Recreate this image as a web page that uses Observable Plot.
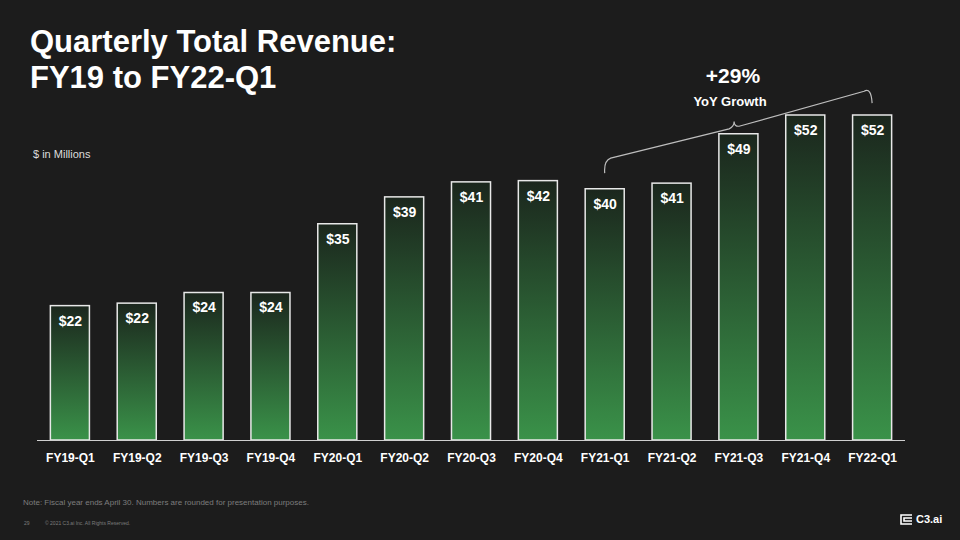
<!DOCTYPE html>
<html>
<head>
<meta charset="utf-8">
<script src="https://cdn.jsdelivr.net/npm/d3@7"></script>
<script src="https://cdn.jsdelivr.net/npm/@observablehq/plot@0.6"></script>
<style>
  html, body { margin: 0; padding: 0; background: #1c1c1c; }
  #page { position: relative; width: 960px; height: 540px; background: #1c1c1c; overflow: hidden;
          font-family: "Liberation Sans", Arial, Helvetica, sans-serif; color: #fff; }
  #chart { position: absolute; left: 0; top: 0; }
  .title { position: absolute; left: 30px; top: 24px; font-size: 31px; font-weight: bold; line-height: 36px; color: #fff; }
  .units { position: absolute; left: 33px; top: 148px; font-size: 11px; color: #dcdcdc; }
  .growth { position: absolute; left: 633px; width: 200px; text-align: center; top: 64px; font-size: 21px; font-weight: bold; }
  .growth2 { position: absolute; left: 630px; width: 200px; text-align: center; top: 94px; font-size: 13px; font-weight: bold; }
  .note { position: absolute; left: 23px; top: 498px; font-size: 8px; color: #7d7d7d; }
  .pg { position: absolute; left: 24px; top: 520px; font-size: 5px; color: #7d7d7d; }
  .copy { position: absolute; left: 45px; top: 520px; font-size: 5px; color: #7d7d7d; }
  .logo { position: absolute; left: 900px; top: 513px; font-size: 11px; font-weight: bold; color: #fff; display: flex; align-items: center; gap: 3px; }
</style>
</head>
<body>
<div id="page">
  <div id="chart"></div>
  <div class="title">Quarterly Total Revenue:<br>FY19 to FY22-Q1</div>
  <div class="units">$ in Millions</div>
  <div class="growth">+29%</div>
  <div class="growth2">YoY Growth</div>
  <div class="note">Note: Fiscal year ends April 30. Numbers are rounded for presentation purposes.</div>
  <div class="pg">29</div>
  <div class="copy">© 2021 C3.ai Inc. All Rights Reserved.</div>
  <div class="logo">
    <svg width="13" height="11" viewBox="0 0 13 11"><path d="M12 1H1v9h11M12 4H4v3h8" fill="none" stroke="#fff" stroke-width="1.6"/></svg>
    <span>C3.ai</span>
  </div>
</div>
<script>
const quarters = ["FY19-Q1","FY19-Q2","FY19-Q3","FY19-Q4","FY20-Q1","FY20-Q2","FY20-Q3","FY20-Q4","FY21-Q1","FY21-Q2","FY21-Q3","FY21-Q4","FY22-Q1"];
const revenue = [21.5, 21.9, 23.6, 23.6, 34.6, 38.9, 41.3, 41.5, 40.2, 41.1, 49.0, 52.0, 52.0];
const labels = ["$22","$22","$24","$24","$35","$39","$41","$42","$40","$41","$49","$52","$52"];
const braceFrom = "FY21-Q1";
const braceTo = "FY22-Q1";

const data = quarters.map((q, i) => ({q, v: revenue[i], label: labels[i]}));

const plot = Plot.plot({
  width: 960,
  height: 540,
  marginLeft: 37,
  marginRight: 55,
  marginTop: 65,
  marginBottom: 100,
  style: {background: "transparent", color: "#fff", fontFamily: "'Liberation Sans', Arial, sans-serif"},
  x: {domain: quarters, paddingInner: 0.416, paddingOuter: 0.2, round: false, label: null},
  y: {domain: [0, 60], axis: null},
  marks: [
    Plot.barY(data, {x: "q", y: "v", fill: "url(#barGrad)", stroke: "#e8e8e8", strokeWidth: 1.5}),
    Plot.text(data, {x: "q", y: "v", text: "label", dy: 15, fill: "#fff", fontSize: 14, fontWeight: "bold"}),
    Plot.ruleY([0], {stroke: "#cfcfcf", strokeWidth: 1}),
    Plot.axisX({tickSize: 0, tickPadding: 13, fontSize: 12, fontWeight: "bold", fill: "#fff", label: null})
  ]
});

const svg = d3.select(plot);
const defs = svg.insert("defs", ":first-child");
const g = defs.append("linearGradient").attr("id", "barGrad").attr("x1", 0).attr("y1", 0).attr("x2", 0).attr("y2", 1);
g.append("stop").attr("offset", "0%").attr("stop-color", "#1b261d");
g.append("stop").attr("offset", "100%").attr("stop-color", "#3a9249");

// brace annotation from FY21-Q1 to FY22-Q1
const xs = plot.scale("x"), ys = plot.scale("y");
const bw = xs.bandwidth;
const x0 = xs.apply(braceFrom) + bw / 2, x1 = xs.apply(braceTo) + bw / 2;
const yL = ys.apply(42.7), yLc = ys.apply(45.0), yR = ys.apply(53.9), yRc = ys.apply(56.3);
const xm = x0 + (x1 - x0) * 0.484;
const slope = (yRc - yLc) / (x1 - x0);
const yAt = x => yLc + slope * (x - x0);
const p = d3.path();
p.moveTo(x0, yL);
p.quadraticCurveTo(x0 - 1, yLc + 2, x0 + 6, yAt(x0 + 6) + 1);
p.lineTo(xm - 5, yAt(xm - 5) + 3);
p.quadraticCurveTo(xm, yAt(xm) + 2, xm, yAt(xm) - 3);
p.quadraticCurveTo(xm, yAt(xm) + 2, xm + 5, yAt(xm + 5) + 3);
p.lineTo(x1 - 8, yAt(x1 - 8) + 1);
p.quadraticCurveTo(x1 - 1, yRc - 1, x1, yR);
svg.append("path").attr("d", p.toString()).attr("fill", "none").attr("stroke", "#bdbdbd").attr("stroke-width", 1.2);

document.getElementById("chart").appendChild(plot);
</script>
</body>
</html>
